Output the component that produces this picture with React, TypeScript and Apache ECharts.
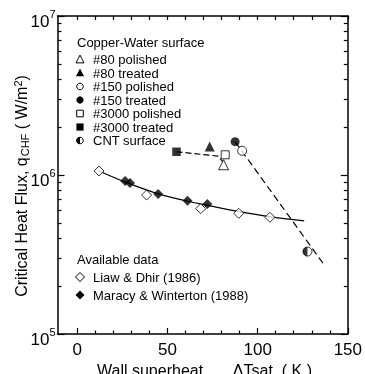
import React, { useEffect, useRef } from 'react';
import * as echarts from 'echarts';

// ---- tick labels / ticks ----
const xLabelValues = [0, 50, 100, 150];
const xMinorValues = [10, 20, 30, 40, 60, 70, 80, 90, 110, 120, 130, 140];
const xTopValues = [0, 10, 20, 30, 40, 50, 60, 70, 80, 90, 100, 110, 120, 130, 140, 150];
const yMinorValues = [2e5, 3e5, 4e5, 5e5, 6e5, 7e5, 8e5, 9e5, 2e6, 3e6, 4e6, 5e6, 6e6, 7e6, 8e6, 9e6];

// ---- Available data ----
const liawX = [12.0, 38.4, 68.4, 89.5, 106.8];
const liawY = [1.06e6, 7.48e5, 6.14e5, 5.74e5, 5.42e5];
const maracyX = [26.5, 29.2, 44.8, 61.1, 72.1];
const maracyY = [9.17e5, 8.9e5, 7.59e5, 6.89e5, 6.57e5];
const fitX = [12.0, 27.4, 44.0, 60.5, 71.5, 89.9, 106.5, 125.8];
const fitY = [1.06e6, 8.95e5, 7.67e5, 6.86e5, 6.47e5, 5.88e5, 5.47e5, 5.14e5];

// ---- Copper-Water surface ----
const p80PolishedX = [81.1];
const p80PolishedY = [1.16e6];
const p80TreatedX = [73.4];
const p80TreatedY = [1.51e6];
const p150PolishedX = [91.4];
const p150PolishedY = [1.42e6];
const p150TreatedX = [87.5];
const p150TreatedY = [1.62e6];
const p3000PolishedX = [82.0];
const p3000PolishedY = [1.34e6];
const p3000TreatedX = [55.0];
const p3000TreatedY = [1.40e6];
const cntX = [127.6];
const cntY = [3.30e5];
const dash3000X = [55.0, 78.0, 81.0];
const dash3000Y = [1.40e6, 1.315e6, 1.2e6];
const dashCntX = [87.5, 137.3];
const dashCntY = [1.62e6, 2.68e5];

const copperLabels = ['#80 polished', '#80 treated', '#150 polished', '#150 treated', '#3000 polished', '#3000 treated', 'CNT surface'];
const availLabels = ['Liaw & Dhir (1986)', 'Maracy & Winterton (1988)'];

const FF = '"Liberation Sans", Arial, Helvetica, sans-serif';
const zip = (xs: number[], ys: number[]) => xs.map((x, i) => [x, ys[i]]);

function tri(cx: number, cy: number, s: number) {
  return [[cx, cy - s * 0.55], [cx + s / 2, cy + s * 0.42], [cx - s / 2, cy + s * 0.42]];
}

export default function App() {
  const ref = useRef<HTMLDivElement>(null);
  useEffect(() => {
    if (!ref.current) return;
    const chart = echarts.init(ref.current, null, { renderer: 'svg' });
    const black = '#000';
    const grid = { left: 57.5, right: 16, top: 16, bottom: 40 };
    const lineSty = { color: black, width: 1.5 };
    const open = (sym: string, size: any, xs: number[], ys: number[], name: string, extra: any = {}) => ({
      type: 'scatter', name, symbol: sym, symbolSize: size, data: zip(xs, ys),
      itemStyle: { color: '#fff', borderColor: black, borderWidth: 1 }, z: 5, ...extra,
    });
    const filled = (sym: string, size: any, xs: number[], ys: number[], name: string, extra: any = {}) => ({
      type: 'scatter', name, symbol: sym, symbolSize: size, data: zip(xs, ys),
      itemStyle: { color: black }, z: 5, ...extra,
    });

    const rowsY = [59.5, 73, 86.5, 100, 113.5, 127, 140.5];
    const mx = 80, tx = 93;
    const txt = (text: string, x: number, y: number, size = 13) => ({
      type: 'text', x, y, silent: true,
      style: { text, fill: black, font: `${size}px ${FF}`, align: 'left', verticalAlign: 'middle' },
    });
    const legend: any[] = [
      txt('Copper-Water surface', 77, 42),
      ...copperLabels.map((l, i) => txt(l, tx, rowsY[i])),
      { type: 'polygon', shape: { points: tri(mx, rowsY[0], 8) }, style: { fill: '#fff', stroke: black, lineWidth: 1 } },
      { type: 'polygon', shape: { points: tri(mx, rowsY[1], 8) }, style: { fill: black } },
      { type: 'circle', shape: { cx: mx, cy: rowsY[2], r: 3.3 }, style: { fill: '#fff', stroke: black, lineWidth: 1 } },
      { type: 'circle', shape: { cx: mx, cy: rowsY[3], r: 3.6 }, style: { fill: black } },
      { type: 'rect', shape: { x: mx - 3.3, y: rowsY[4] - 3.3, width: 6.6, height: 6.6 }, style: { fill: '#fff', stroke: black, lineWidth: 1 } },
      { type: 'rect', shape: { x: mx - 3.6, y: rowsY[5] - 3.6, width: 7.2, height: 7.2 }, style: { fill: black } },
      { type: 'circle', shape: { cx: mx, cy: rowsY[6], r: 3.3 }, style: { fill: '#fff', stroke: black, lineWidth: 1 } },
      { type: 'sector', shape: { cx: mx, cy: rowsY[6], r: 3.6, r0: 0, startAngle: Math.PI / 2, endAngle: Math.PI * 1.5 }, style: { fill: black } },
      txt('Available data', 77, 259),
      txt(availLabels[0], tx, 277),
      txt(availLabels[1], tx, 295),
      { type: 'polygon', shape: { points: [[mx, 272.5], [mx + 4.5, 277], [mx, 281.5], [mx - 4.5, 277]] }, style: { fill: '#fff', stroke: black, lineWidth: 1 } },
      { type: 'polygon', shape: { points: [[mx, 290.5], [mx + 4.5, 295], [mx, 299.5], [mx - 4.5, 295]] }, style: { fill: black } },
      // axis titles
      {
        type: 'text', x: 21, y: 186, rotation: Math.PI / 2, silent: true,
        style: {
          text: 'Critical Heat Flux, q{sub|CHF} ( W/m{sup|2})',
          fill: black, font: `16px ${FF}`, align: 'center', verticalAlign: 'middle',
          rich: {
            sub: { fontSize: 11, fontFamily: FF, fill: black, padding: [8, 0, 0, 1] },
            sup: { fontSize: 11, fontFamily: FF, fill: black, padding: [0, 0, 7, 0] },
          },
        },
      },
      txt('Wall superheat', 97, 370, 16),
      { type: 'text', x: 312, y: 370, silent: true, style: { text: 'ΔTsat  ( K )', fill: black, font: `16px ${FF}`, align: 'right', verticalAlign: 'middle' } },
    ];

    const baseX = { type: 'value', min: -11, max: 150, gridIndex: 0, splitLine: { show: false } };
    const baseYLog = { type: 'log', logBase: 10, min: 1e5, max: 1e7, splitLine: { show: false } };
    const baseYVal = { type: 'value', min: 5, max: 7, splitLine: { show: false } };

    chart.setOption({
      animation: false,
      grid,
      xAxis: [
        {
          ...baseX, position: 'bottom',
          axisLine: { show: true, onZero: false, lineStyle: lineSty },
          axisTick: { show: true, inside: true, length: 6, customValues: xLabelValues, lineStyle: { color: black, width: 1.2 } },
          axisLabel: { show: true, customValues: xLabelValues, margin: 7, fontSize: 17, color: black, fontFamily: FF },
        },
        {
          ...baseX, position: 'bottom',
          axisLine: { show: false, onZero: false },
          axisTick: { show: true, inside: true, length: 3.5, customValues: xMinorValues, lineStyle: { color: black, width: 1.2 } },
          axisLabel: { show: false },
        },
        {
          ...baseX, position: 'top',
          axisLine: { show: true, onZero: false, lineStyle: lineSty },
          axisTick: { show: true, inside: true, length: 4, customValues: xTopValues, lineStyle: { color: black, width: 1.2 } },
          axisLabel: { show: false },
        },
      ],
      yAxis: [
        {
          ...baseYLog, position: 'left',
          axisLine: { show: true, onZero: false, lineStyle: lineSty },
          axisTick: { show: true, inside: true, length: 7, lineStyle: { color: black, width: 1.2 } },
          axisLabel: {
            show: true, margin: 2, color: black,
            formatter: (v: number) => `{b|10}{s|${Math.round(Math.log10(v))}}`,
            rich: {
              b: { fontSize: 17, fontFamily: FF, color: black, padding: [10, 0, 0, 0] },
              s: { fontSize: 11, fontFamily: FF, color: black, padding: [0, 0, 4, 0] },
            },
          },
        },
        {
          ...baseYVal, position: 'left',
          axisLine: { show: false, onZero: false },
          axisTick: { show: true, inside: true, length: 4, customValues: yMinorValues.map(Math.log10), lineStyle: { color: black, width: 1.2 } },
          axisLabel: { show: false },
        },
        {
          ...baseYLog, position: 'right',
          axisLine: { show: true, onZero: false, lineStyle: lineSty },
          axisTick: { show: true, inside: true, length: 7, lineStyle: { color: black, width: 1.2 } },
          axisLabel: { show: false },
        },
        {
          ...baseYVal, position: 'right',
          axisLine: { show: false, onZero: false },
          axisTick: { show: true, inside: true, length: 4, customValues: yMinorValues.map(Math.log10), lineStyle: { color: black, width: 1.2 } },
          axisLabel: { show: false },
        },
      ],
      series: [
        {
          type: 'line', name: 'fit', data: zip(fitX, fitY), smooth: 0.35, showSymbol: false, symbol: 'none',
          lineStyle: { color: black, width: 1.2 }, z: 2,
        },
        {
          type: 'line', name: 'dash3000', data: zip(dash3000X, dash3000Y), showSymbol: false, symbol: 'none',
          lineStyle: { color: black, width: 1.2, type: [6, 3] }, z: 2,
        },
        {
          type: 'line', name: 'dashCnt', data: zip(dashCntX, dashCntY), showSymbol: false, symbol: 'none',
          lineStyle: { color: black, width: 1.2, type: [7, 4] }, z: 2,
        },
        open('diamond', 10, liawX, liawY, availLabels[0]),
        filled('diamond', 10, maracyX, maracyY, availLabels[1]),
        open('triangle', 10, p80PolishedX, p80PolishedY, copperLabels[0]),
        filled('triangle', 10, p80TreatedX, p80TreatedY, copperLabels[1]),
        open('circle', 9, p150PolishedX, p150PolishedY, copperLabels[2]),
        filled('circle', 9, p150TreatedX, p150TreatedY, copperLabels[3]),
        open('rect', 8, p3000PolishedX, p3000PolishedY, copperLabels[4]),
        filled('rect', 8.5, p3000TreatedX, p3000TreatedY, copperLabels[5]),
        open('circle', 9, cntX, cntY, copperLabels[6]),
        filled('path://M10,0 A10,10 0 0 0 10,20 Z', [4.5, 9], cntX, cntY, copperLabels[6] + ' fill', { symbolOffset: [-2.25, 0], z: 6 }),
      ],
      graphic: legend,
    });
    return () => chart.dispose();
  }, []);
  return <div ref={ref} style={{ position: 'fixed', left: 0, top: 0, width: 365, height: 374 }} />;
}
